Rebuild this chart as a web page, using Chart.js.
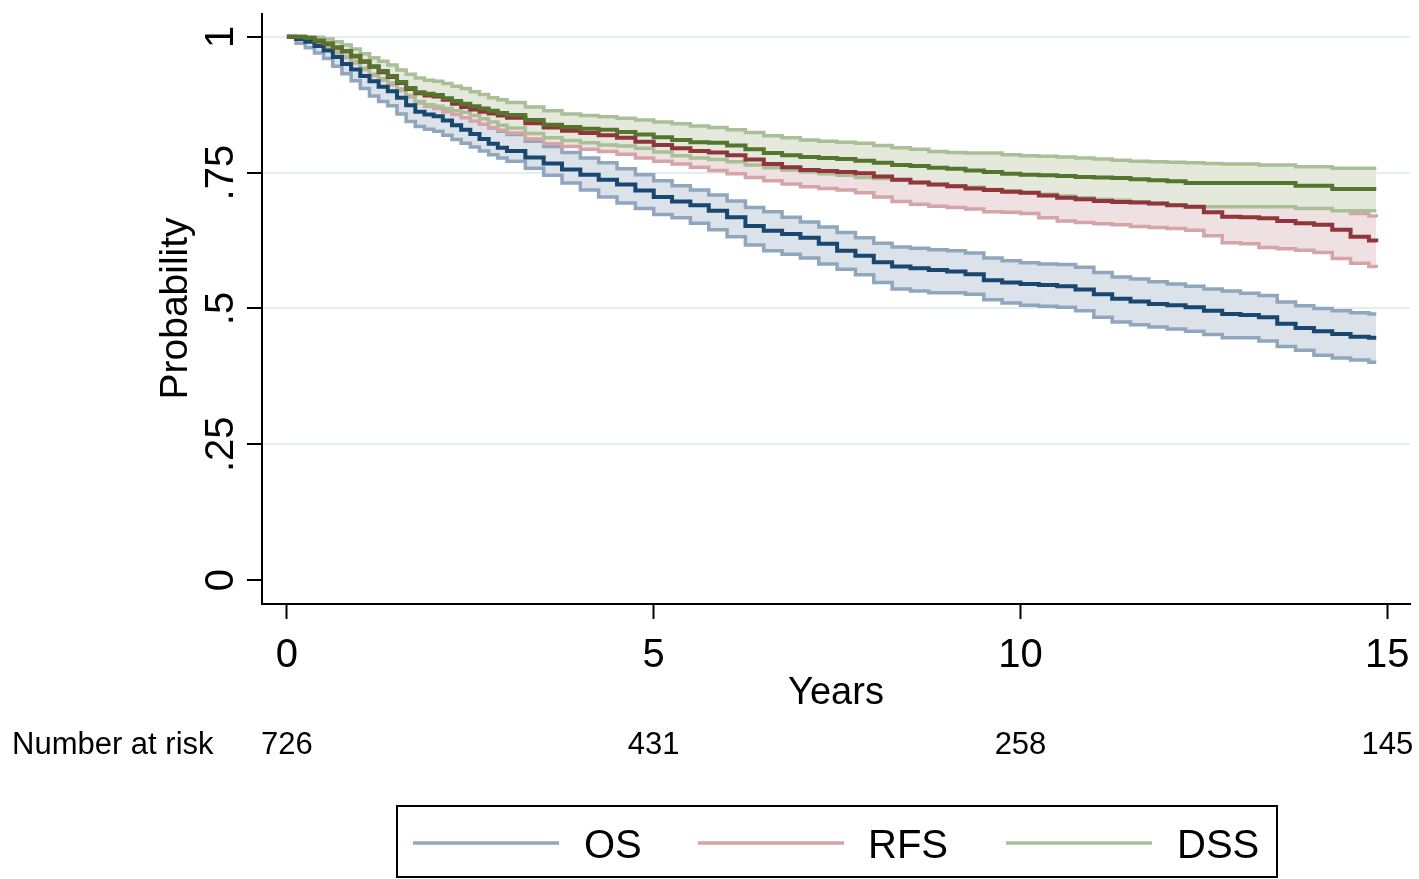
<!DOCTYPE html>
<html lang="en">
<head>
    <meta charset="UTF-8">
    <title>Survival curves</title>
    <script src="https://cdn.jsdelivr.net/npm/chart.js"></script>
    <style>
        html, body { margin: 0; padding: 0; background: #fff; }
        #wrap { width: 1419px; height: 879px; }
    </style>
</head>
<body>
<div id="wrap"><canvas id="km" width="1419" height="879"></canvas></div>
<script>
    // time grid (years): finer in the first 3 years where the curves drop fast
    const years = [0, 0.125, 0.25, 0.375, 0.5, 0.625, 0.75, 0.875, 1, 1.125, 1.25, 1.375, 1.5, 1.625, 1.75, 1.875,
        2, 2.125, 2.25, 2.375, 2.5, 2.625, 2.75, 2.875, 3,
        3.25, 3.5, 3.75, 4, 4.25, 4.5, 4.75, 5, 5.25, 5.5, 5.75, 6, 6.25, 6.5, 6.75, 7, 7.25, 7.5, 7.75, 8, 8.25, 8.5, 8.75,
        9, 9.25, 9.5, 9.75, 10, 10.25, 10.5, 10.75, 11, 11.25, 11.5, 11.75, 12, 12.25, 12.5, 12.75, 13, 13.25, 13.5, 13.75,
        14, 14.25, 14.5, 14.75, 14.85];

    const osEst = [1.000, 0.996, 0.991, 0.983, 0.975, 0.963, 0.950, 0.940, 0.928, 0.918, 0.908, 0.900, 0.888, 0.874, 0.862, 0.857,
        0.854, 0.846, 0.837, 0.829, 0.821, 0.812, 0.803, 0.796, 0.790,
        0.778, 0.767, 0.756, 0.746, 0.737, 0.728, 0.717, 0.705, 0.697, 0.690, 0.680, 0.668, 0.652, 0.643, 0.637, 0.630, 0.619, 0.606, 0.597, 0.585, 0.577, 0.574, 0.571,
        0.568, 0.563, 0.552, 0.548, 0.545, 0.543, 0.541, 0.535, 0.526, 0.518, 0.513, 0.508, 0.506, 0.502, 0.496, 0.490, 0.488, 0.484, 0.472, 0.464,
        0.458, 0.453, 0.448, 0.446, 0.446];
    const osUpper = [1.000, 0.999, 0.997, 0.993, 0.987, 0.977, 0.966, 0.956, 0.945, 0.937, 0.928, 0.920, 0.909, 0.896, 0.886, 0.881,
        0.878, 0.870, 0.862, 0.855, 0.848, 0.840, 0.832, 0.826, 0.820,
        0.808, 0.798, 0.787, 0.777, 0.768, 0.757, 0.746, 0.735, 0.726, 0.718, 0.709, 0.698, 0.686, 0.678, 0.668, 0.659, 0.650, 0.640, 0.630, 0.620, 0.613, 0.611, 0.608,
        0.606, 0.602, 0.593, 0.588, 0.584, 0.582, 0.581, 0.576, 0.566, 0.558, 0.554, 0.549, 0.545, 0.541, 0.536, 0.532, 0.528, 0.524, 0.512, 0.505,
        0.500, 0.496, 0.492, 0.490, 0.490];
    const osLower = [1.000, 0.988, 0.980, 0.970, 0.960, 0.946, 0.932, 0.919, 0.905, 0.891, 0.881, 0.873, 0.858, 0.844, 0.835, 0.830,
        0.826, 0.819, 0.811, 0.804, 0.797, 0.790, 0.783, 0.777, 0.771,
        0.758, 0.745, 0.731, 0.718, 0.705, 0.694, 0.684, 0.673, 0.667, 0.657, 0.645, 0.632, 0.617, 0.606, 0.600, 0.593, 0.582, 0.572, 0.562, 0.548, 0.536, 0.532, 0.529,
        0.529, 0.526, 0.516, 0.510, 0.506, 0.504, 0.502, 0.496, 0.484, 0.475, 0.470, 0.466, 0.462, 0.458, 0.452, 0.446, 0.446, 0.440, 0.430, 0.423,
        0.414, 0.409, 0.405, 0.401, 0.401];

    const rfsEst = [1.000, 1.000, 0.998, 0.992, 0.987, 0.980, 0.973, 0.964, 0.954, 0.945, 0.935, 0.926, 0.915, 0.904, 0.896, 0.892,
        0.890, 0.884, 0.877, 0.871, 0.866, 0.862, 0.859, 0.855, 0.851,
        0.841, 0.833, 0.827, 0.823, 0.819, 0.814, 0.807, 0.801, 0.795, 0.790, 0.787, 0.782, 0.774, 0.766, 0.760, 0.755, 0.753, 0.751, 0.749, 0.743, 0.737, 0.732, 0.728,
        0.725, 0.721, 0.718, 0.715, 0.713, 0.708, 0.704, 0.701, 0.698, 0.696, 0.695, 0.693, 0.690, 0.687, 0.677, 0.669, 0.668, 0.666, 0.661, 0.657,
        0.654, 0.645, 0.632, 0.625, 0.622];
    const rfsUpper = [1.000, 1.000, 1.000, 0.998, 0.995, 0.990, 0.984, 0.977, 0.969, 0.961, 0.953, 0.945, 0.935, 0.925, 0.918, 0.915,
        0.913, 0.907, 0.901, 0.895, 0.889, 0.886, 0.883, 0.879, 0.875,
        0.866, 0.858, 0.852, 0.848, 0.844, 0.839, 0.833, 0.827, 0.822, 0.817, 0.814, 0.809, 0.802, 0.794, 0.789, 0.784, 0.782, 0.780, 0.778, 0.773, 0.767, 0.763, 0.759,
        0.756, 0.753, 0.750, 0.747, 0.745, 0.741, 0.737, 0.734, 0.732, 0.730, 0.729, 0.728, 0.725, 0.723, 0.713, 0.706, 0.705, 0.703, 0.699, 0.696,
        0.694, 0.686, 0.675, 0.670, 0.668];
    const rfsLower = [1.000, 0.999, 0.995, 0.987, 0.980, 0.970, 0.962, 0.952, 0.940, 0.929, 0.920, 0.912, 0.901, 0.889, 0.878, 0.872,
        0.868, 0.862, 0.857, 0.851, 0.845, 0.839, 0.833, 0.828, 0.823,
        0.812, 0.803, 0.798, 0.793, 0.789, 0.784, 0.777, 0.771, 0.766, 0.760, 0.754, 0.748, 0.741, 0.735, 0.729, 0.724, 0.721, 0.718, 0.713, 0.705, 0.697, 0.692, 0.688,
        0.686, 0.683, 0.678, 0.677, 0.675, 0.667, 0.661, 0.658, 0.656, 0.654, 0.651, 0.649, 0.647, 0.644, 0.634, 0.621, 0.619, 0.612, 0.610, 0.607,
        0.603, 0.592, 0.583, 0.577, 0.575];

    const dssEst = [1.000, 1.000, 0.998, 0.993, 0.988, 0.981, 0.974, 0.965, 0.955, 0.946, 0.937, 0.928, 0.917, 0.906, 0.898, 0.895,
        0.893, 0.887, 0.882, 0.877, 0.872, 0.868, 0.864, 0.860, 0.856,
        0.847, 0.838, 0.834, 0.831, 0.829, 0.825, 0.820, 0.815, 0.810, 0.806, 0.805, 0.800, 0.793, 0.786, 0.782, 0.779, 0.777, 0.775, 0.772, 0.768, 0.764, 0.762, 0.759,
        0.757, 0.754, 0.751, 0.748, 0.746, 0.745, 0.744, 0.742, 0.741, 0.740, 0.738, 0.736, 0.734, 0.731, 0.731, 0.731, 0.731, 0.731, 0.731, 0.726,
        0.726, 0.720, 0.720, 0.720, 0.720];
    const dssUpper = [1.000, 1.000, 1.000, 0.999, 0.996, 0.991, 0.985, 0.977, 0.969, 0.961, 0.955, 0.948, 0.939, 0.931, 0.924, 0.920,
        0.918, 0.914, 0.909, 0.905, 0.899, 0.894, 0.888, 0.884, 0.879,
        0.871, 0.864, 0.858, 0.855, 0.853, 0.850, 0.847, 0.843, 0.840, 0.836, 0.833, 0.829, 0.824, 0.818, 0.814, 0.810, 0.808, 0.806, 0.804, 0.800, 0.796, 0.793, 0.789,
        0.787, 0.786, 0.786, 0.783, 0.781, 0.780, 0.779, 0.777, 0.775, 0.773, 0.771, 0.770, 0.769, 0.768, 0.767, 0.766, 0.766, 0.764, 0.764, 0.761,
        0.761, 0.758, 0.758, 0.758, 0.758];
    const dssLower = [1.000, 0.999, 0.995, 0.988, 0.981, 0.972, 0.964, 0.955, 0.942, 0.931, 0.923, 0.915, 0.904, 0.892, 0.881, 0.875,
        0.872, 0.868, 0.864, 0.861, 0.855, 0.849, 0.843, 0.837, 0.832,
        0.822, 0.814, 0.809, 0.805, 0.801, 0.799, 0.795, 0.788, 0.781, 0.777, 0.774, 0.770, 0.764, 0.759, 0.755, 0.751, 0.748, 0.745, 0.741, 0.739, 0.737, 0.732, 0.728,
        0.726, 0.723, 0.719, 0.716, 0.713, 0.710, 0.707, 0.704, 0.701, 0.699, 0.696, 0.693, 0.690, 0.687, 0.687, 0.687, 0.687, 0.687, 0.687, 0.684,
        0.684, 0.680, 0.680, 0.680, 0.680];

    const xTicks = [0, 5, 10, 15];
    const yTicks = [0, 0.25, 0.5, 0.75, 1];
    const yTickLabels = ['0', '.25', '.5', '.75', '1'];
    const riskYears = [0, 5, 10, 15];
    const atRisk = [726, 431, 258, 145];
    const legendNames = ['OS', 'RFS', 'DSS'];

    const navy = '#1a476f', navyCi = '#8fa6bd', navyFill = '#dce2ea';
    const maroon = '#90353b', maroonCi = '#d5a4a8', maroonFill = '#efe0e1';
    const green = '#55752f', greenCi = '#aabf97', greenFill = '#e4e9dc';

    const FONT = '"Liberation Sans", Arial, sans-serif';

    function pts(vals) {
        return years.map((t, i) => ({ x: t, y: vals[i] }));
    }

    // upper bound line, then lower bound line that fills up to it
    function band(name, up, lo, lineCol, fillCol, ord) {
        return [
            { label: name + ' upper', data: pts(up), borderColor: lineCol, borderWidth: 3.5, fill: false, stepped: true, pointRadius: 0, order: ord },
            { label: name + ' lower', data: pts(lo), borderColor: lineCol, backgroundColor: fillCol, borderWidth: 3.5, fill: '-1', stepped: true, pointRadius: 0, order: ord }
        ];
    }

    function line(name, vals, col, ord) {
        return { label: name, data: pts(vals), borderColor: col, borderWidth: 4, fill: false, stepped: true, pointRadius: 0, order: ord };
    }

    const kmText = {
        id: 'kmText',
        afterDraw(chart) {
            const ctx = chart.ctx;
            const x = chart.scales.x;
            const y = chart.scales.y;
            const area = chart.chartArea;
            ctx.save();
            ctx.fillStyle = '#000';

            // x tick labels
            ctx.font = '40px ' + FONT;
            ctx.textAlign = 'center';
            ctx.textBaseline = 'alphabetic';
            xTicks.forEach(v => ctx.fillText(String(v), x.getPixelForValue(v), 667));

            // y tick labels, turned
            yTicks.forEach((v, i) => {
                ctx.save();
                ctx.translate(233, y.getPixelForValue(v));
                ctx.rotate(-Math.PI / 2);
                ctx.fillText(yTickLabels[i], 0, 0);
                ctx.restore();
            });

            // axis titles
            ctx.font = '39px ' + FONT;
            ctx.save();
            ctx.translate(187, y.getPixelForValue(0.5));
            ctx.rotate(-Math.PI / 2);
            ctx.fillText('Probability', 0, 0);
            ctx.restore();

            ctx.font = '38px ' + FONT;
            ctx.fillText('Years', (area.left + area.right) / 2, 704);

            // number at risk row
            ctx.font = '31px ' + FONT;
            ctx.textAlign = 'left';
            ctx.fillText('Number at risk', 12, 754);
            ctx.textAlign = 'center';
            riskYears.forEach((v, i) => ctx.fillText(String(atRisk[i]), x.getPixelForValue(v), 754));

            // legend box
            ctx.strokeStyle = '#000';
            ctx.lineWidth = 2;
            ctx.strokeRect(397, 806, 880, 71);
            const keyCols = [navyCi, maroonCi, greenCi];
            const keyX = [413, 698, 1006];
            const textX = [584, 868, 1177];
            ctx.font = '40px ' + FONT;
            ctx.textAlign = 'left';
            legendNames.forEach((n, i) => {
                ctx.strokeStyle = keyCols[i];
                ctx.lineWidth = 3.5;
                ctx.beginPath();
                ctx.moveTo(keyX[i], 843);
                ctx.lineTo(keyX[i] + 146, 843);
                ctx.stroke();
                ctx.fillText(n, textX[i], 858);
            });
            ctx.restore();
        }
    };

    new Chart(document.getElementById('km'), {
        type: 'line',
        data: {
            datasets: [
                line('DSS', dssEst, green, 0),
                line('RFS', rfsEst, maroon, 1),
                line('OS', osEst, navy, 1),
                ...band('DSS', dssUpper, dssLower, greenCi, greenFill, 3),
                ...band('RFS', rfsUpper, rfsLower, maroonCi, maroonFill, 4),
                ...band('OS', osUpper, osLower, navyCi, navyFill, 5)
            ]
        },
        options: {
            responsive: false,
            animation: false,
            devicePixelRatio: 1,
            layout: { padding: { left: 262, top: 14, right: 9, bottom: 275 } },
            plugins: { legend: { display: false }, tooltip: { enabled: false } },
            scales: {
                x: {
                    type: 'linear',
                    min: -0.34,
                    max: 15.31,
                    afterFit: s => { s.height = 0; },
                    afterBuildTicks: s => { s.ticks = xTicks.map(v => ({ value: v })); },
                    ticks: { display: false },
                    grid: { color: 'transparent', drawTicks: true, tickLength: 15, tickColor: '#000', tickWidth: 2 },
                    border: { display: true, color: '#000', width: 2 }
                },
                y: {
                    type: 'linear',
                    min: -0.044,
                    max: 1.042,
                    afterFit: s => { s.width = 0; },
                    afterBuildTicks: s => { s.ticks = yTicks.map(v => ({ value: v })); },
                    ticks: { display: false },
                    grid: {
                        color: c => (c.tick && c.tick.value === 0 ? 'transparent' : '#e4edf0'),
                        lineWidth: 2,
                        drawTicks: true, tickLength: 15, tickColor: '#000', tickWidth: 2
                    },
                    border: { display: true, color: '#000', width: 2 }
                }
            }
        },
        plugins: [kmText]
    });
</script>
</body>
</html>
